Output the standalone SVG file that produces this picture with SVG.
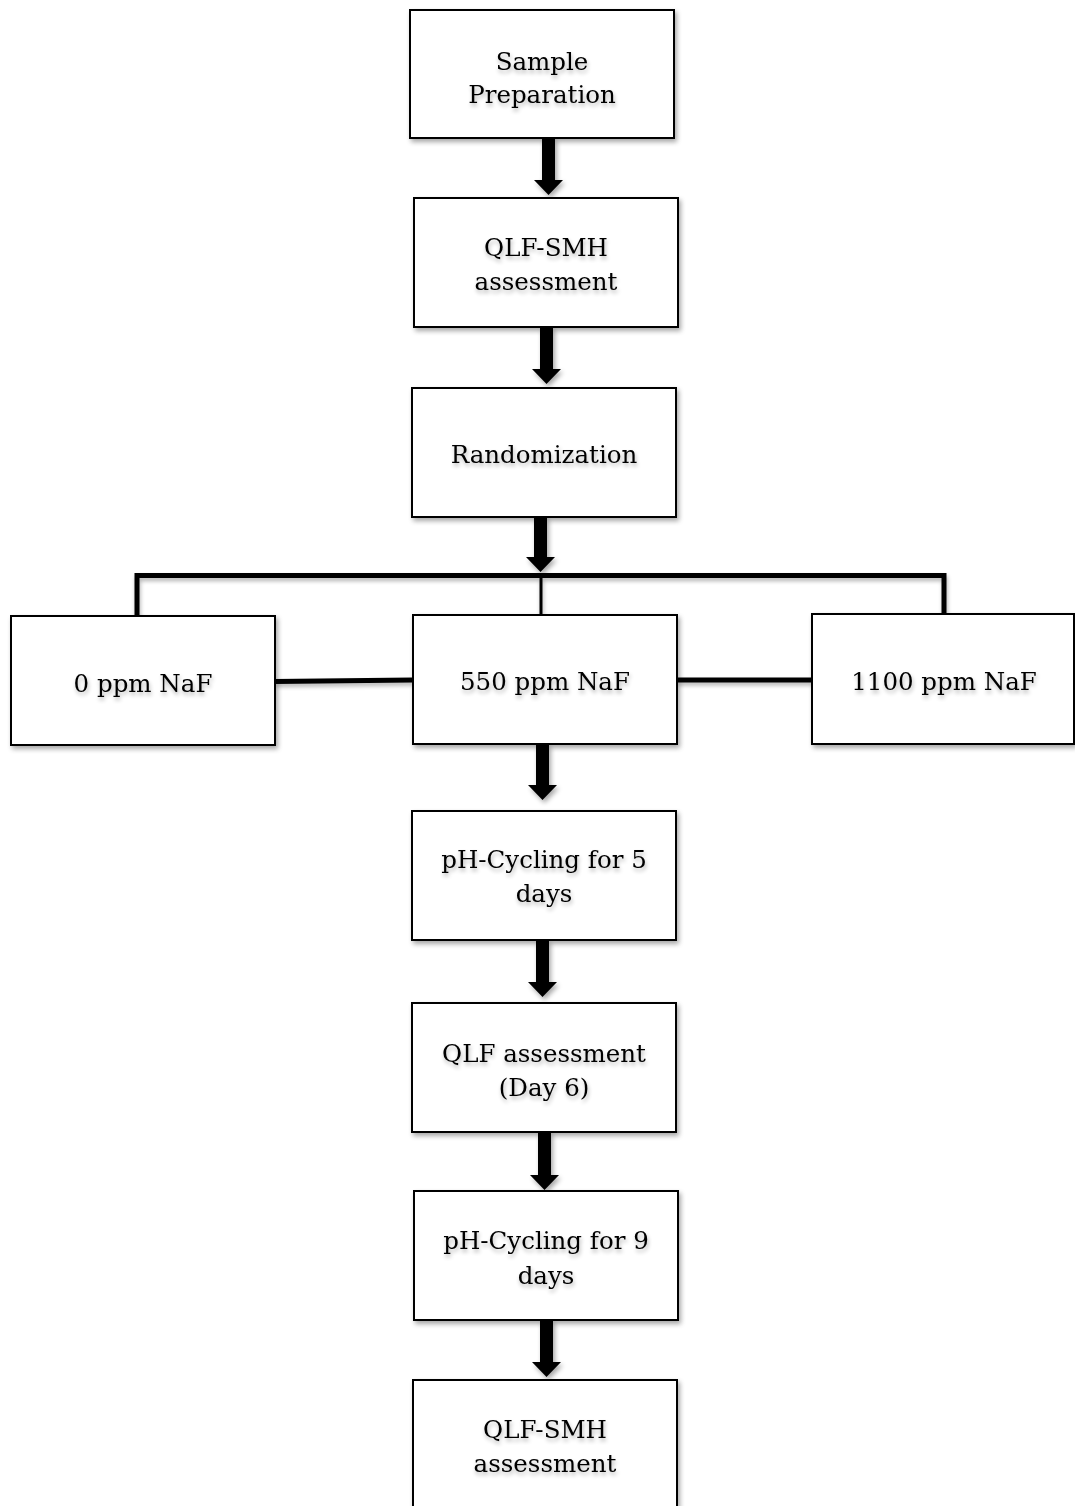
<svg xmlns="http://www.w3.org/2000/svg" width="1075" height="1506" viewBox="0 0 1075 1506">
<defs>
<filter id="sh" x="-10%" y="-10%" width="130%" height="130%">
<feGaussianBlur in="SourceAlpha" stdDeviation="2.5"/>
<feOffset dx="2" dy="3" result="b"/>
<feComponentTransfer><feFuncA type="linear" slope="0.35"/></feComponentTransfer>
<feMerge><feMergeNode/><feMergeNode in="SourceGraphic"/></feMerge>
</filter>
<filter id="lsh" filterUnits="userSpaceOnUse" x="0" y="0" width="1075" height="1506">
<feGaussianBlur in="SourceAlpha" stdDeviation="2"/>
<feOffset dx="1" dy="3" result="b"/>
<feComponentTransfer><feFuncA type="linear" slope="0.3"/></feComponentTransfer>
<feMerge><feMergeNode/><feMergeNode in="SourceGraphic"/></feMerge>
</filter>
<filter id="tsh" x="-10%" y="-30%" width="120%" height="170%">
<feGaussianBlur in="SourceAlpha" stdDeviation="2"/>
<feOffset dx="1" dy="3" result="b"/>
<feComponentTransfer><feFuncA type="linear" slope="0.3"/></feComponentTransfer>
<feMerge><feMergeNode/><feMergeNode in="SourceGraphic"/></feMerge>
</filter>
</defs>
<style>
.box{fill:#fff;stroke:#000;stroke-width:2;filter:url(#sh)}
.t{font-family:"DejaVu Serif","Liberation Serif",serif;font-size:24.5px;fill:#000;text-anchor:middle;filter:url(#tsh)}
.ln{stroke:#000;fill:none;stroke-linecap:butt}
.ar{fill:#000;filter:url(#sh)}
</style>
<rect width="1075" height="1506" fill="#fff"/>
<g id="connectors">
<path class="ar" d="M542,138 h13 v42 h8 l-14.5,15 l-14.5,-15 h8 z"/>
<path class="ar" d="M540,327 h13 v42 h8 l-14.5,15 l-14.5,-15 h8 z"/>
<path class="ar" d="M534,517 h13 v40 h8 l-14.5,15 l-14.5,-15 h8 z"/>
<g filter="url(#lsh)">
<path class="ln" d="M137,616 V575.5 H944 V614" stroke-width="5"/>
<path class="ln" d="M541,575 V615" stroke-width="3"/>
<path class="ln" d="M275,681.5 L413,680" stroke-width="5"/>
<path class="ln" d="M677,680 H812" stroke-width="5"/>
</g>
<path class="ar" d="M536,744 h13 v41 h8 l-14.5,15 l-14.5,-15 h8 z"/>
<path class="ar" d="M536,940 h13 v42 h8 l-14.5,15 l-14.5,-15 h8 z"/>
<path class="ar" d="M538,1132 h13 v43 h8 l-14.5,15 l-14.5,-15 h8 z"/>
<path class="ar" d="M540,1320 h13 v42 h8 l-14.5,15 l-14.5,-15 h8 z"/>
</g>
<g id="n1"><rect class="box" x="410" y="10" width="264" height="128"/>
<text class="t" x="542" y="70">Sample</text><text class="t" x="542" y="103">Preparation</text></g>
<g id="n2"><rect class="box" x="414" y="198" width="264" height="129"/>
<text class="t" x="546" y="256">QLF-SMH</text><text class="t" x="546" y="290">assessment</text></g>
<g id="n3"><rect class="box" x="412" y="388" width="264" height="129"/>
<text class="t" x="544" y="463">Randomization</text></g>
<g id="n4"><rect class="box" x="11" y="616" width="264" height="129"/>
<text class="t" x="143" y="692">0 ppm NaF</text></g>
<g id="n5"><rect class="box" x="413" y="615" width="264" height="129"/>
<text class="t" x="545" y="690">550 ppm NaF</text></g>
<g id="n6"><rect class="box" x="812" y="614" width="262" height="130"/>
<text class="t" x="944" y="690">1100 ppm NaF</text></g>
<g id="n7"><rect class="box" x="412" y="811" width="264" height="129"/>
<text class="t" x="544" y="868">pH-Cycling for 5</text><text class="t" x="544" y="902">days</text></g>
<g id="n8"><rect class="box" x="412" y="1003" width="264" height="129"/>
<text class="t" x="544" y="1062">QLF assessment</text><text class="t" x="544" y="1096">(Day 6)</text></g>
<g id="n9"><rect class="box" x="414" y="1191" width="264" height="129"/>
<text class="t" x="546" y="1249">pH-Cycling for 9</text><text class="t" x="546" y="1284">days</text></g>
<g id="n10"><rect class="box" x="413" y="1380" width="264" height="140"/>
<text class="t" x="545" y="1438">QLF-SMH</text><text class="t" x="545" y="1472">assessment</text></g>
</svg>
